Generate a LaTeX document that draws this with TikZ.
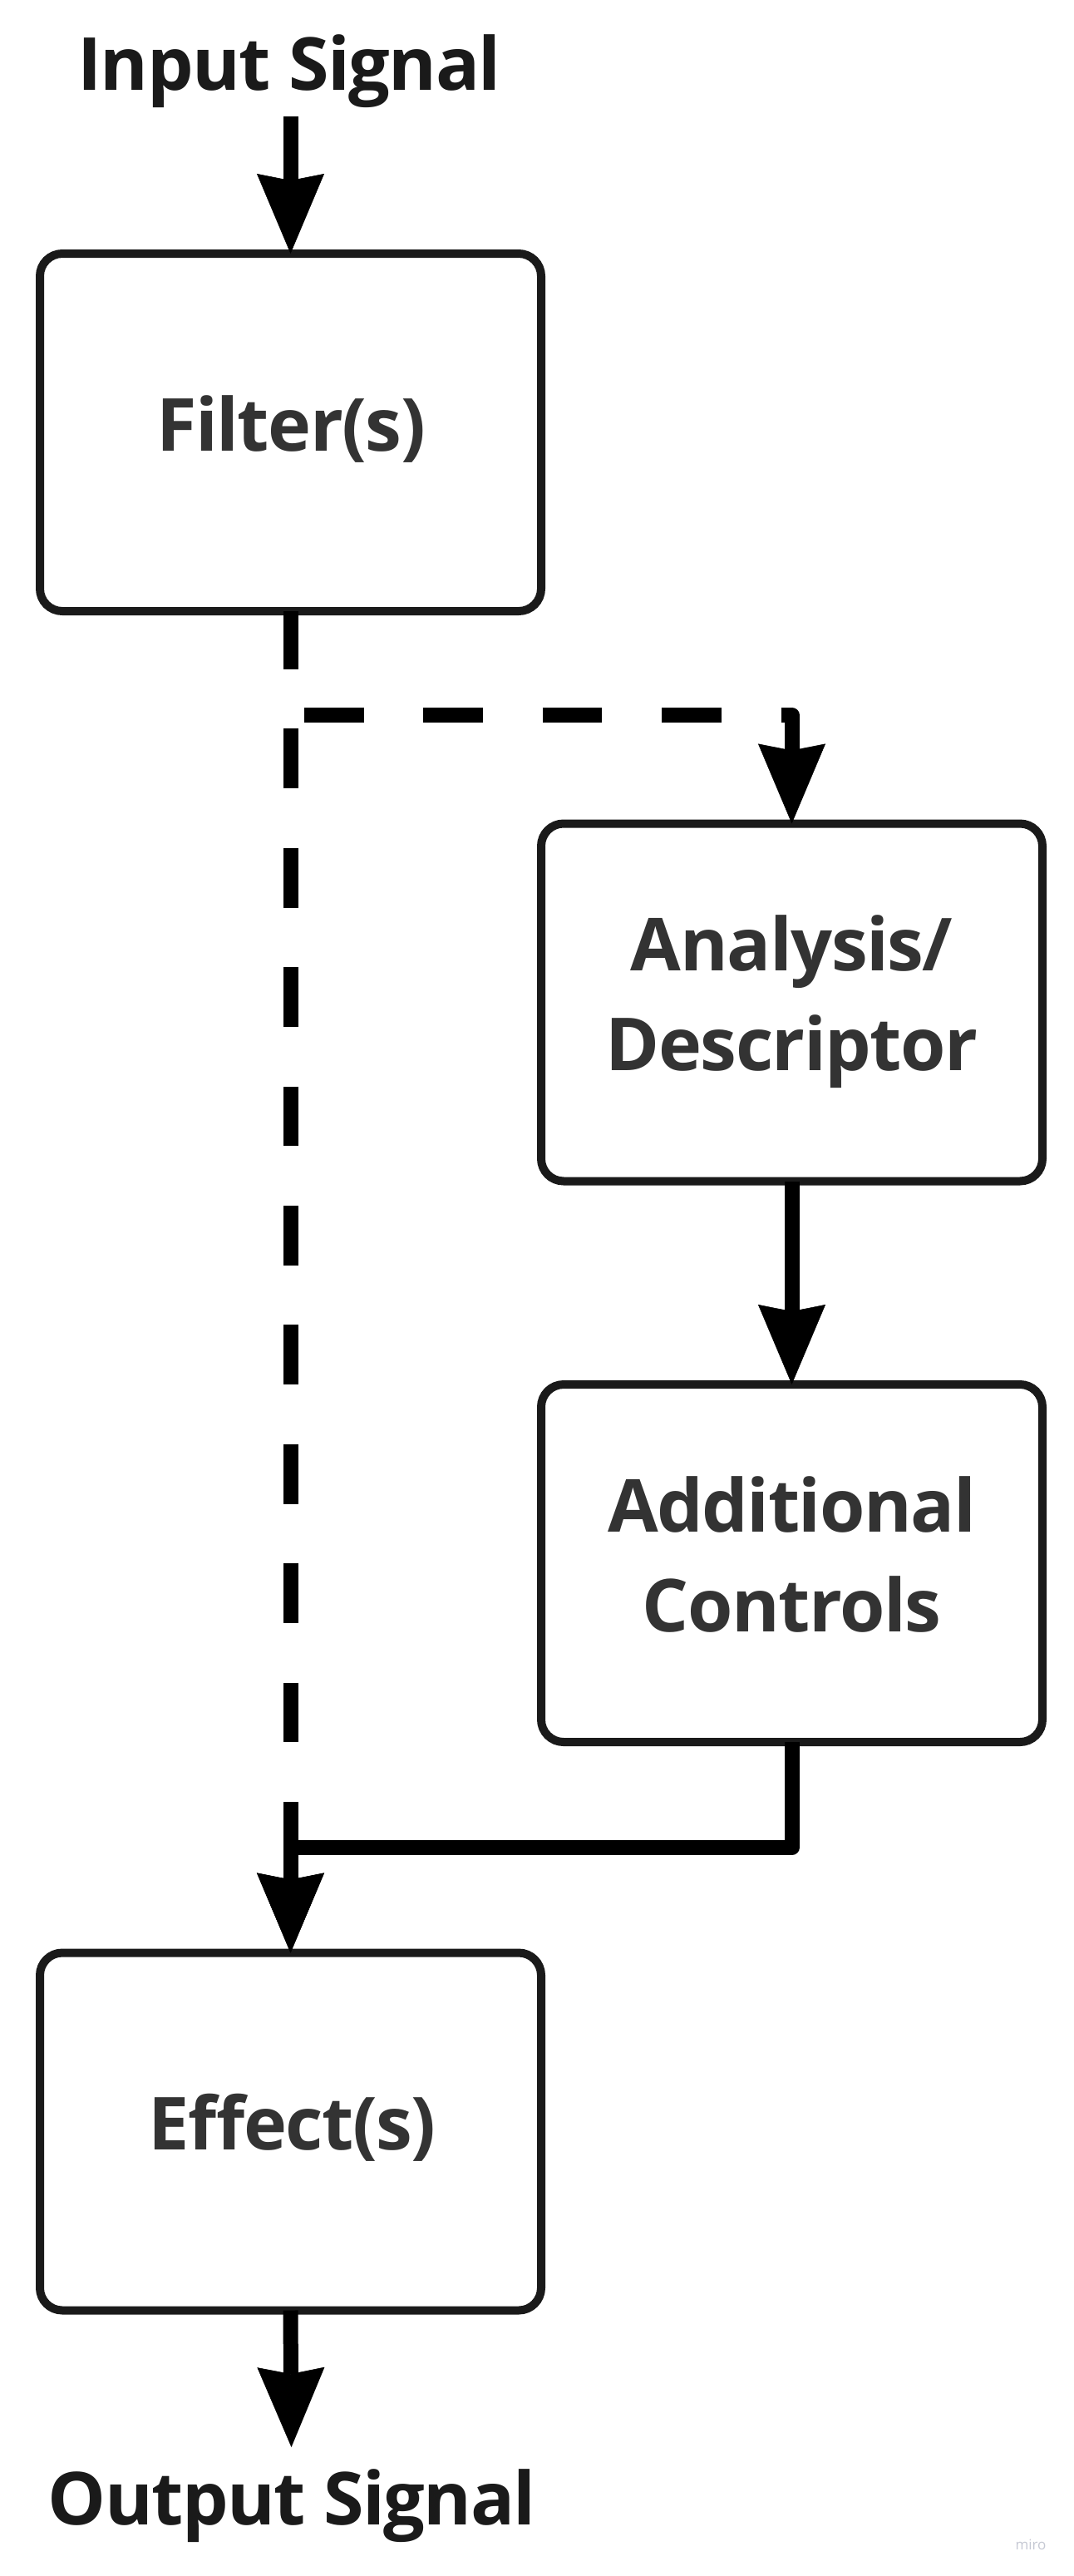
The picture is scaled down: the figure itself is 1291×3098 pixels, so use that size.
\documentclass[tikz,border=0pt]{standalone}
\usepackage{fontspec}
\setmainfont{Open Sans}
\newfontfamily\tightsans{Open Sans}[LetterSpace=-1.7]
\usetikzlibrary{arrows.meta}
\definecolor{boxline}{HTML}{1A1A1A}
\definecolor{boxtext}{HTML}{333333}
\definecolor{titletext}{HTML}{1A1A1A}
\definecolor{wmark}{HTML}{C5C8D3}
\tikzset{
  blockbox/.style={draw=boxline, line width=10pt, rounded corners=27pt,
    minimum width=603pt, minimum height=430pt, inner sep=0pt, outer sep=0pt},
  boxlabel/.style={anchor=base, inner sep=0pt, text=boxtext,
    font=\tightsans\fontsize{88}{120}\selectfont\bfseries},
  titlelabel/.style={anchor=base, inner sep=0pt, text=titletext,
    font=\tightsans\fontsize{88}{120}\selectfont\bfseries},
  headtip/.tip={Stealth[length=96pt, width=81pt, inset=8pt, line width=0.5pt]},
  flow/.style={draw=black, line width=18pt, line cap=butt, line join=round, -headtip},
  dashflow/.style={flow, dash pattern=on 71.7pt off 71.7pt, dash phase=2pt},
}
\begin{document}
\begin{tikzpicture}[x=1pt, y=-1pt]
\useasboundingbox (0,0) rectangle (1291,3098);

% boxes
\node[blockbox] (filter)     at (349.5,520)    {};
\node[blockbox] (analysis)   at (952.5,1205.5) {};
\node[blockbox] (additional) at (952.5,1880)   {};
\node[blockbox] (effects)    at (349.5,2563.5) {};

% texts
\node[titlelabel] (input)  at (348,108)  {Input Signal};
\node[boxlabel]   (filtertxt) at (350,542) {Filter(s)};
\node[boxlabel]   (ana1) at (952.5,1167) {Analysis/};
\node[boxlabel]   (ana2) at (952.5,1287) {Descriptor};
\node[boxlabel]   (add1) at (952.5,1842) {Additional};
\node[boxlabel]   (add2) at (952.5,1962) {Controls};
\node[boxlabel]   (efftxt) at (351.5,2585) {Effect(s)};
\node[titlelabel] (output) at (351,3036) {Output Signal};
\node[anchor=base, inner sep=0pt, text=wmark, font=\fontsize{17}{20}\selectfont] (wm) at (1240,3066) {miro};

% helper coordinates
\coordinate (inStart) at (349.5,140);
\coordinate (split)   at (349.5,860);
\coordinate (toAna)   at (952.5,860);
\coordinate (addDown) at (952.5,2222);
\coordinate (merge)   at (349.5,2222);
\coordinate (outTip)  at (350.5,2943);

% connectors
\draw[flow] (inStart) -- (filter.north);
\draw[dashflow] (filter.south) -- (effects.north);
\draw[dashflow] (filter.south) -- (split) -- (toAna) -- (analysis.north);
\draw[flow] (analysis.south) -- (additional.north);
\draw[flow] (additional.south) -- (addDown) -- (merge) -- (effects.north);
\draw[flow] (effects.south) -- (outTip);
\end{tikzpicture}
\end{document}
